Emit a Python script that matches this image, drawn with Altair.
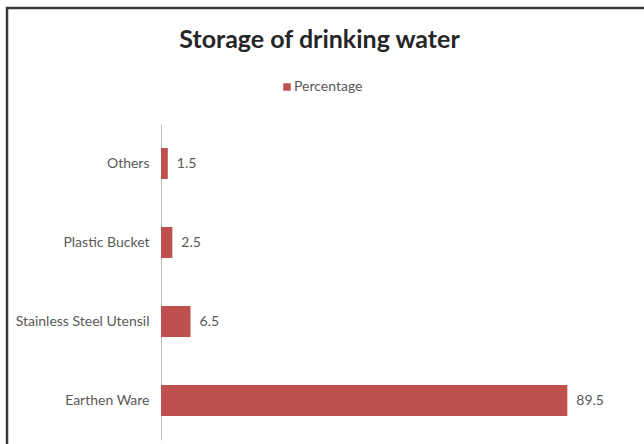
import altair as alt
import pandas as pd

# Storage containers and share of households (percent)
categories = ["Others", "Plastic Bucket", "Stainless Steel Utensil", "Earthen Ware"]
percentages = [1.5, 2.5, 6.5, 89.5]
series_name = "Percentage"
title_text = "Storage of drinking water"

df = pd.DataFrame({"category": categories, "value": percentages, "series": series_name})

BAR_COLOR = "#C0504D"
TEXT_GRAY = "#595959"
FONT = "Lato"

y_enc = alt.Y(
    "category:N",
    sort=categories,
    title=None,
    scale=alt.Scale(paddingInner=0.6, paddingOuter=0.3),
    axis=alt.Axis(
        ticks=False,
        labelPadding=12,
        labelFont=FONT,
        labelFontSize=14,
        labelColor=TEXT_GRAY,
        domainColor="#BFBFBF",
        domainWidth=1,
    ),
)
x_enc = alt.X("value:Q", scale=alt.Scale(domain=[0, 100]), axis=None)

bars = alt.Chart(df).mark_bar(size=31).encode(
    x=x_enc,
    y=y_enc,
    color=alt.Color(
        "series:N",
        scale=alt.Scale(domain=[series_name], range=[BAR_COLOR]),
        legend=alt.Legend(
            title=None,
            orient="none",
            legendX=119,
            legendY=-44,
            symbolType="square",
            symbolSize=56,
            symbolStrokeWidth=0,
            labelFont=FONT,
            labelFontSize=14,
            labelColor=TEXT_GRAY,
            padding=0,
            labelOffset=0,
        ),
    ),
)

labels = alt.Chart(df).mark_text(
    align="left", baseline="middle", dx=9, font=FONT, fontSize=14, color=TEXT_GRAY
).encode(x=x_enc, y=y_enc, text=alt.Text("value:Q", format=".1f"))

# chart heading
heading = alt.Chart(pd.DataFrame({"t": [title_text]})).mark_text(
    align="center", baseline="alphabetic", font=FONT, fontSize=25,
    fontWeight="bold", color="#262626",
).encode(x=alt.value(158.5), y=alt.value(-76), text="t:N")

# outer chart frame
frame = alt.Chart(pd.DataFrame({"t": [0]})).mark_rect(
    fill=None, stroke="#3A3A3A", strokeWidth=2.5
).encode(
    x=alt.value(-154), x2=alt.value(540), y=alt.value(-116), y2=alt.value(345)
)

chart = (
    alt.layer(frame, heading, bars, labels)
    .properties(
        width=454,
        height=316,
        autosize=alt.AutoSizeParams(type="none"),
        padding={"left": 161, "top": 124, "right": 29, "bottom": 4},
    )
    .configure(background="white", view=alt.ViewConfig(stroke="transparent", strokeWidth=0))
)

chart.save("out.html", embed_options={"renderer": "svg", "actions": False})
